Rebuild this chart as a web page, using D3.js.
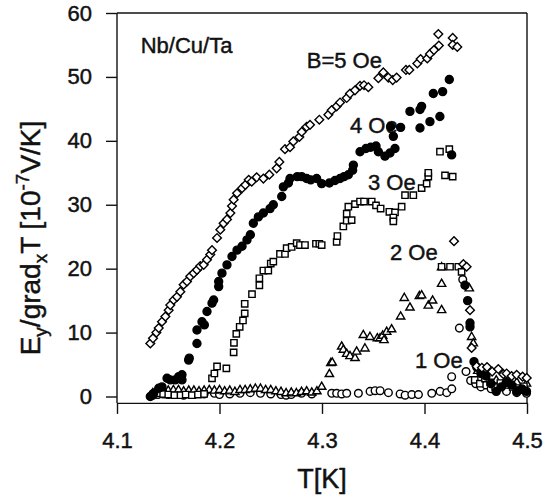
<!DOCTYPE html>
<html>
<head>
<meta charset="utf-8">
<script src="https://cdn.jsdelivr.net/npm/d3@7"></script>
<style>
  body { margin: 0; background: #fff; }
  text { font-family: "Liberation Sans", Arial, sans-serif; fill: #111; stroke: #111; stroke-width: 0.45px; }
</style>
</head>
<body>
<div id="chart"></div>
<script>
// tick values
var xTicks = [4.1, 4.2, 4.3, 4.4, 4.5];
var yTicks = [0, 10, 20, 30, 40, 50, 60];

// series: [T (K), Ey/gradxT (1e-7 V/K)]
var b5 = [
  [4.1325, 8.3], [4.1351, 9.1], [4.1384, 10.0], [4.1407, 10.7], [4.1439, 11.7], [4.1472, 12.5],
  [4.1504, 13.5], [4.152, 14.3], [4.1553, 15.1], [4.1585, 15.6], [4.1618, 16.4], [4.165, 17.5],
  [4.1683, 18.0], [4.1715, 18.8], [4.1748, 19.3], [4.178, 19.8], [4.1813, 20.4], [4.1846, 20.6],
  [4.1878, 21.4], [4.191, 22.2], [4.1927, 22.9], [4.1976, 24.8], [4.2008, 26.1], [4.204, 27.1],
  [4.2073, 27.7], [4.2106, 28.7], [4.2122, 29.8], [4.2138, 30.8], [4.2171, 31.8], [4.222, 32.6],
  [4.2252, 33.1], [4.2285, 33.9], [4.2314, 33.6], [4.2363, 34.3], [4.2428, 34.1], [4.2486, 34.7],
  [4.2558, 35.7], [4.2584, 36.7], [4.2639, 38.7], [4.2688, 39.0], [4.272, 39.9], [4.2779, 40.6],
  [4.2802, 41.4], [4.285, 42.2], [4.2883, 42.5], [4.2974, 43.3], [4.3062, 44.1], [4.3094, 44.8],
  [4.3143, 45.4], [4.3176, 46.0], [4.3241, 46.7], [4.3273, 47.4], [4.3322, 47.9], [4.3371, 48.6],
  [4.341, 48.7], [4.3452, 48.4], [4.355, 49.8], [4.3598, 50.7], [4.3647, 49.9], [4.369, 49.5],
  [4.3728, 49.9], [4.3819, 51.1], [4.3852, 51.1], [4.393, 52.1], [4.3962, 52.8], [4.4027, 52.9],
  [4.4053, 53.6], [4.4092, 54.2], [4.414, 54.9], [4.4135, 56.7], [4.4275, 56.1], [4.4275, 55.0],
  [4.432, 54.7], [4.4288, 24.3], [4.4379, 20.7], [4.4411, 20.3], [4.4444, 13.5], [4.446, 7.6],
  [4.4509, 4.7], [4.456, 4.5], [4.461, 4.6], [4.466, 3.9], [4.472, 4.3], [4.477, 3.5],
  [4.4801, 3.6], [4.485, 3.2], [4.4899, 3.4], [4.4957, 3.1], [4.4997, 2.9]
];
var b4 = [
  [4.1325, 0.0], [4.1358, 0.5], [4.1407, 1.3], [4.1439, 1.5], [4.1488, 2.85], [4.152, 2.6],
  [4.1569, 2.6], [4.1602, 3.1], [4.1634, 3.4], [4.1634, 2.6], [4.1699, 5.7], [4.1705, 6.0],
  [4.178, 8.3], [4.178, 10.4], [4.1829, 11.7], [4.1852, 11.2], [4.1878, 13.3], [4.1927, 14.6],
  [4.1943, 15.1], [4.1992, 17.2], [4.1992, 18.0], [4.2024, 19.3], [4.2073, 20.6], [4.2122, 21.9],
  [4.2171, 22.9], [4.222, 23.5], [4.2268, 24.5], [4.2301, 25.3], [4.233, 27.1], [4.2379, 28.1],
  [4.2428, 28.7], [4.2493, 29.4], [4.2525, 30.0], [4.2607, 31.3], [4.2623, 32.8], [4.2672, 33.4],
  [4.2688, 34.1], [4.2759, 34.4], [4.2802, 34.4], [4.285, 34.1], [4.289, 33.9], [4.2948, 34.1],
  [4.2997, 33.3], [4.3072, 33.4], [4.3127, 33.8], [4.3176, 34.1], [4.3215, 34.4], [4.3257, 34.7],
  [4.3299, 35.4], [4.3306, 36.2], [4.3371, 38.3], [4.3429, 38.8], [4.3475, 39.0], [4.3527, 39.2],
  [4.355, 38.3], [4.3614, 37.6], [4.3663, 38.1], [4.3712, 38.8], [4.3696, 40.7], [4.367, 42.2],
  [4.3767, 42.1], [4.3858, 44.6], [4.3956, 44.9], [4.3972, 45.4], [4.3956, 42.0], [4.4053, 43.0],
  [4.415, 43.8], [4.4086, 47.4], [4.4177, 47.7], [4.4242, 49.6], [4.4265, 37.8], [4.4395, 17.4],
  [4.4421, 15.0], [4.4444, 11.5], [4.4444, 10.9], [4.4483, 5.45], [4.451, 4.6], [4.455, 3.6],
  [4.46, 3.2], [4.465, 2.0], [4.47, 0.8], [4.475, 1.5], [4.48, 2.2], [4.485, 1.8],
  [4.49, 0.8], [4.495, 1.2], [4.4995, 0.8]
];
var b3 = [
  [4.135, 0.3], [4.14, 0.5], [4.145, 0.4], [4.15, 0.3], [4.156, 0.2], [4.162, 0.2], [4.167, 0.3],
  [4.173, 0.2], [4.179, 0.3], [4.185, 0.4], [4.1927, 2.85], [4.195, 3.6], [4.1976, 4.7],
  [4.2067, 4.4], [4.2138, 6.9], [4.2141, 8.4], [4.2164, 9.8], [4.2197, 10.9], [4.2229, 11.9],
  [4.2246, 13.0], [4.2246, 14.5], [4.2317, 16.0], [4.2389, 17.4], [4.2389, 18.5], [4.2428, 19.7],
  [4.2476, 19.7], [4.25, 20.8], [4.2525, 21.1], [4.259, 22.3], [4.2639, 22.3], [4.2655, 23.2],
  [4.2704, 23.4], [4.2753, 24.0], [4.2785, 23.7], [4.2834, 23.7], [4.2941, 23.9], [4.2974, 23.9],
  [4.2997, 23.7], [4.3143, 24.2], [4.315, 25.1], [4.3208, 26.6], [4.3241, 27.5], [4.3289, 27.6],
  [4.3241, 28.6], [4.3257, 29.7], [4.3322, 30.1], [4.3371, 30.5], [4.341, 30.5], [4.3485, 30.5],
  [4.3527, 29.9], [4.3572, 29.4], [4.3657, 28.9], [4.3712, 28.8], [4.3696, 28.0], [4.3696, 27.4],
  [4.3777, 29.7], [4.381, 31.5], [4.3891, 31.5], [4.3972, 32.6], [4.4021, 33.3], [4.4037, 34.4],
  [4.4037, 35.0], [4.4151, 38.3], [4.4242, 38.7], [4.42, 34.6], [4.4275, 34.4], [4.4167, 20.3],
  [4.4249, 20.3], [4.433, 20.3], [4.4362, 19.5], [4.449, 2.6], [4.454, 2.0], [4.459, 2.8],
  [4.464, 2.2], [4.469, 1.5], [4.474, 2.1], [4.479, 1.8], [4.486, 1.5], [4.492, 1.0], [4.497, 1.6]
];
var b2 = [
  [4.135, 0.5], [4.14, 0.8], [4.145, 0.9], [4.15, 0.9], [4.155, 1.0], [4.16, 1.0], [4.165, 0.8],
  [4.17, 0.9], [4.175, 0.9], [4.18, 0.8], [4.185, 0.9], [4.19, 1.0], [4.195, 0.9], [4.2, 1.0],
  [4.205, 0.8], [4.21, 0.9], [4.215, 0.7], [4.22, 1.0], [4.225, 1.0], [4.23, 1.1], [4.235, 1.2],
  [4.24, 1.2], [4.245, 1.0], [4.25, 1.0], [4.255, 0.8], [4.26, 0.7], [4.265, 0.5], [4.27, 0.6],
  [4.275, 0.5], [4.28, 0.7], [4.285, 0.8], [4.29, 0.6], [4.295, 0.8], [4.2997, 1.5], [4.3072, 3.5],
  [4.3086, 5.2], [4.31, 5.3], [4.3192, 7.8], [4.3208, 7.3], [4.3241, 6.65], [4.3273, 6.3],
  [4.3322, 6.0], [4.3338, 7.0], [4.3419, 7.5], [4.3403, 9.6], [4.3468, 9.3], [4.354, 9.1],
  [4.3566, 9.1], [4.3592, 9.5], [4.3605, 8.8], [4.3631, 10.1], [4.3679, 10.5], [4.3767, 12.5],
  [4.3803, 15.4], [4.3858, 13.9], [4.395, 15.7], [4.3972, 15.8], [4.4037, 14.2], [4.4079, 15.0],
  [4.4167, 13.5], [4.4167, 17.6], [4.4167, 20.2], [4.4437, 16.9], [4.446, 9.3], [4.4476, 8.3],
  [4.452, 4.0], [4.46, 3.0], [4.47, 2.5], [4.48, 2.8], [4.49, 2.2], [4.4995, 2.0]
];
var b1 = [
  [4.135, 0.2], [4.14, 0.3], [4.145, 0.4], [4.15, 0.3], [4.155, 0.5], [4.165, 0.2], [4.175, 0.3],
  [4.185, 0.4], [4.195, 0.5], [4.2, 0.3], [4.21, 0.4], [4.22, 0.5], [4.23, 0.6], [4.24, 0.5],
  [4.25, 0.4], [4.26, 0.3], [4.265, 0.2], [4.27, 0.3], [4.28, 0.5], [4.29, 0.4], [4.3095, 0.5],
  [4.3143, 0.5], [4.3192, 0.4], [4.3241, 0.5], [4.3355, 0.5], [4.3469, 0.8], [4.3518, 0.9],
  [4.3567, 0.9], [4.3648, 0.6], [4.3762, 0.4], [4.3811, 0.2], [4.3876, 0.3], [4.3941, 0.3],
  [4.4071, 0.5], [4.4152, 0.8], [4.4217, 0.6], [4.4266, 1.2], [4.4265, 3.1], [4.434, 10.7],
  [4.4373, 18.3], [4.4405, 3.9], [4.445, 2.5], [4.45, 2.0], [4.455, 1.5], [4.46, 1.8],
  [4.465, 1.2], [4.47, 1.0], [4.48, 0.8], [4.49, 0.6], [4.4995, 0.5]
];

// annotations: [text, T, E] (left/baseline anchor in data units)
var notes = [
  ["Nb/Cu/Ta", 4.1231, 53.8],
  ["B=5 Oe", 4.2851, 51.4],
  ["4 Oe", 4.3273, 41.2],
  ["3 Oe", 4.3449, 32.3],
  ["2 Oe", 4.3663, 21.4],
  ["1 Oe", 4.3907, 4.5]
];

var width = 545, height = 495;

var svg = d3.select("#chart").append("svg")
    .attr("width", width)
    .attr("height", height);

var x = d3.scaleLinear().domain([4.1, 4.5]).range([117, 527]);
var y = d3.scaleLinear().domain([0, 60]).range([396.5, 13]);
var yBottom = y(-1);

// frame
var frame = svg.append("g").attr("stroke", "#111").attr("stroke-width", 1.4);
frame.append("line").attr("x1", x(4.1)).attr("x2", x(4.5)).attr("y1", y(60)).attr("y2", y(60));
frame.append("line").attr("x1", x(4.5)).attr("x2", x(4.5)).attr("y1", y(60)).attr("y2", yBottom);
frame.append("line").attr("x1", x(4.1)).attr("x2", x(4.1)).attr("y1", y(60)).attr("y2", yBottom);

var xAxis = svg.append("g")
    .attr("transform", "translate(0," + yBottom + ")")
    .call(d3.axisBottom(x).tickValues(xTicks).tickFormat(d3.format(".1f"))
        .tickSize(11).tickPadding(18).tickSizeOuter(0));

var yAxis = svg.append("g")
    .attr("transform", "translate(" + x(4.1) + ",0)")
    .call(d3.axisLeft(y).tickValues(yTicks).tickSize(11).tickPadding(14).tickSizeOuter(0));
yAxis.select(".domain").remove();

svg.selectAll(".tick line").attr("stroke", "#111").attr("stroke-width", 1.4);
xAxis.select(".domain").attr("stroke", "#111").attr("stroke-width", 1.4);
svg.selectAll(".tick text")
    .attr("fill", "#111")
    .style("font-size", "22px")
    .style("font-family", "'Liberation Sans', Arial, sans-serif");

// axis titles
svg.append("text")
    .attr("x", (x(4.1) + x(4.5)) / 2)
    .attr("y", 488)
    .attr("text-anchor", "middle")
    .style("font-size", "27px")
    .text("T[K]");

var yl = svg.append("text")
    .attr("transform", "translate(40," + 238 + ") rotate(-90)")
    .attr("text-anchor", "middle")
    .style("font-size", "28px");
yl.append("tspan").text("E");
yl.append("tspan").attr("dy", 7).style("font-size", "19px").text("y");
yl.append("tspan").attr("dy", -7).text("/grad");
yl.append("tspan").attr("dy", 7).style("font-size", "19px").text("x");
yl.append("tspan").attr("dy", -7).text("T  [10");
yl.append("tspan").attr("dy", -11).style("font-size", "19px").text("-7");
yl.append("tspan").attr("dy", 11).text("V/K]");

// annotations
svg.selectAll(".note")
  .data(notes)
  .enter().append("text")
    .attr("class", "note")
    .attr("x", function (d) { return x(d[1]); })
    .attr("y", function (d) { return y(d[2]); })
    .style("font-size", "22px")
    .text(function (d) { return d[0]; });

// markers
var series = [
  { data: b1, shape: d3.symbolCircle, size: 46, fill: "#fff", rot: 0 },
  { data: b2, shape: d3.symbolTriangle, size: 30, fill: "#fff", rot: 0 },
  { data: b3, shape: d3.symbolSquare, size: 40, fill: "#fff", rot: 0 },
  { data: b4, shape: d3.symbolCircle, size: 50, fill: "#000", rot: 0 },
  { data: b5, shape: d3.symbolSquare, size: 38, fill: "#fff", rot: 45 }
];

series.forEach(function (s) {
  var sym = d3.symbol().type(s.shape).size(s.size);
  svg.append("g").selectAll("path")
    .data(s.data)
    .enter().append("path")
      .attr("d", sym)
      .attr("transform", function (d) {
        return "translate(" + x(d[0]) + "," + y(d[1]) + ") rotate(" + s.rot + ")";
      })
      .attr("fill", s.fill)
      .attr("stroke", "#000")
      .attr("stroke-width", 1.4);
});
</script>
</body>
</html>
